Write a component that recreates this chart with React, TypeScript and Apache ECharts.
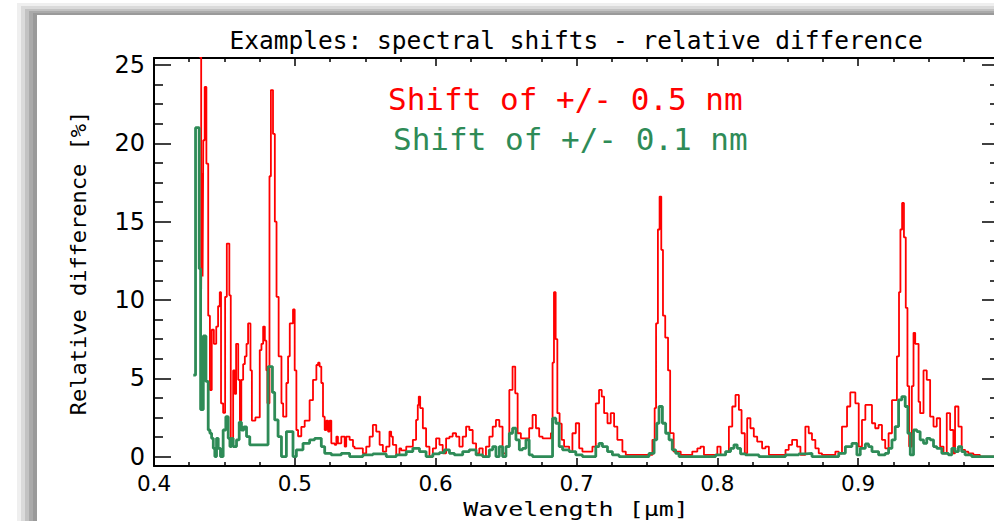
import React, { useEffect, useRef } from "react";
import * as echarts from "echarts";

const titleText = "Examples: spectral shifts - relative difference";
const xAxisName = "Wavelength [μm]";
const yAxisName = "Relative difference [%]";
const redLabel = "Shift of +/- 0.5 nm";
const greenLabel = "Shift of +/- 0.1 nm";

// [wavelength µm, relative difference %] — step segments (value holds until next wavelength)
const shift05: number[][] = [
  [0.4323, 25.5], [0.4335, 10.7], [0.434, 18.1], [0.4345, 11.5], [0.435, 20.2], [0.436, 23.6], [0.4372, 18.7],
  [0.4385, 9.0], [0.4397, 4.25], [0.441, 8.1], [0.4425, 7.2], [0.4442, 8.3], [0.4455, 9.6], [0.4467, 10.5],
  [0.4476, 3.4], [0.4491, 2.8], [0.4505, 10.2], [0.4517, 13.6], [0.4535, 10.3], [0.4545, 0.85], [0.4562, 5.5],
  [0.4574, 4.0], [0.4583, 7.2], [0.4598, 4.9], [0.461, 2.3], [0.462, 4.9], [0.4633, 5.9], [0.4645, 6.4],
  [0.4657, 7.2], [0.4668, 8.5], [0.4685, 5.5], [0.4695, 2.3], [0.472, 2.5], [0.4751, 6.8], [0.4763, 7.2],
  [0.4775, 8.3], [0.4787, 7.4], [0.4798, 5.5], [0.4805, 3.4], [0.482, 17.9], [0.483, 23.4], [0.4845, 20.6],
  [0.4858, 15.0], [0.487, 10.2], [0.4885, 6.4], [0.4905, 3.4], [0.4917, 2.55], [0.494, 4.7], [0.4952, 6.4],
  [0.4964, 8.5], [0.4987, 9.4], [0.4999, 5.5], [0.5011, 1.7], [0.5023, 1.3], [0.5046, 1.9], [0.507, 2.3],
  [0.5093, 2.3], [0.5105, 3.6], [0.5129, 4.9], [0.5153, 5.85], [0.5165, 6.0], [0.5176, 5.75], [0.5188, 4.7],
  [0.52, 2.55], [0.5212, 1.7], [0.5224, 2.3], [0.5236, 1.6], [0.5247, 2.3], [0.5259, 0.85], [0.5283, 0.75],
  [0.5295, 1.28], [0.5306, 0.85], [0.533, 1.28], [0.5354, 0.64], [0.5365, 1.28], [0.5389, 1.07], [0.5413, 0.64],
  [0.5424, 0.53], [0.5483, 0.21], [0.5507, 0.64], [0.5531, 1.28], [0.5554, 2.02], [0.5578, 1.6], [0.5602, 0.75],
  [0.5625, 0.32], [0.5649, 0.64], [0.5672, 1.6], [0.5684, 1.28], [0.5696, 0.75], [0.572, 0.11], [0.5743, 0.53],
  [0.5755, 0.4], [0.5791, 0.64], [0.5838, 1.07], [0.5861, 2.34], [0.5873, 3.3], [0.588, 3.83], [0.589, 3.1],
  [0.5909, 1.81], [0.5932, 0.64], [0.5956, 0.0], [0.598, 0.53], [0.6003, 1.17], [0.6027, 0.75], [0.605, 0.21],
  [0.6074, 1.17], [0.6098, 1.28], [0.6121, 1.49], [0.6145, 1.28], [0.6168, 0.64], [0.6192, 1.28], [0.6216, 1.92],
  [0.6239, 1.7], [0.6263, 0.85], [0.6287, 0.21], [0.631, 0.53], [0.6334, 0.0], [0.6357, 0.64], [0.6381, 1.28],
  [0.6405, 1.92], [0.6428, 2.34], [0.6452, 1.92], [0.6475, 0.21], [0.6499, 0.64], [0.6523, 4.26], [0.6546, 5.75],
  [0.6565, 4.04], [0.6582, 1.49], [0.6605, 1.17], [0.6664, 1.81], [0.6688, 2.66], [0.6712, 1.81], [0.6735, 1.28],
  [0.6759, 1.17], [0.6818, 1.49], [0.683, 6.0], [0.684, 10.5], [0.6852, 7.5], [0.6864, 2.77], [0.688, 2.1],
  [0.6895, 1.07], [0.6912, 0.64], [0.6948, 0.32], [0.6971, 1.49], [0.6995, 2.13], [0.7019, 0.53], [0.7042, 0.32],
  [0.7113, 0.64], [0.7137, 3.4], [0.716, 4.26], [0.7179, 3.83], [0.7196, 2.77], [0.722, 2.13], [0.7243, 2.77],
  [0.7267, 1.92], [0.729, 1.07], [0.7326, 0.32], [0.735, 0.11], [0.7539, 1.07], [0.7555, 3.1], [0.7565, 8.5],
  [0.7578, 14.5], [0.759, 16.6], [0.7602, 13.2], [0.7614, 9.0], [0.763, 7.6], [0.765, 5.5], [0.7665, 1.5],
  [0.769, 0.32], [0.774, 0.11], [0.7822, 0.32], [0.7858, 0.53], [0.7881, 0.64], [0.7905, 0.11], [0.8, 0.64],
  [0.8023, 0.11], [0.8059, 0.32], [0.8082, 1.92], [0.8106, 3.2], [0.8129, 3.94], [0.8153, 2.98], [0.8172, 1.49],
  [0.8195, 0.21], [0.8212, 2.45], [0.8235, 1.81], [0.8259, 1.28], [0.8283, 0.96], [0.8318, 0.53], [0.8342, 0.64],
  [0.8366, 0.11], [0.8484, 0.43], [0.8507, 0.75], [0.8531, 1.07], [0.8566, 0.64], [0.859, 0.11], [0.8625, 1.92],
  [0.8649, 1.49], [0.8672, 1.07], [0.8696, 0.53], [0.872, 0.21], [0.8743, 0.11], [0.8838, 0.32], [0.8862, 0.21],
  [0.8885, 1.92], [0.8921, 3.2], [0.8944, 4.1], [0.898, 3.4], [0.9004, 0.64], [0.9027, 2.34], [0.9051, 3.3],
  [0.9098, 2.13], [0.9121, 1.81], [0.9145, 2.02], [0.9169, 1.07], [0.9192, 0.53], [0.9216, 1.49], [0.924, 3.6],
  [0.9275, 6.4], [0.929, 10.5], [0.93, 14.5], [0.9312, 16.2], [0.9325, 14.0], [0.9338, 9.5], [0.935, 4.5],
  [0.9362, 0.64], [0.9381, 4.5], [0.9393, 7.9], [0.9405, 7.2], [0.9429, 3.5], [0.944, 2.77], [0.9464, 5.5],
  [0.9487, 4.9], [0.9511, 2.55], [0.9535, 1.92], [0.9558, 2.45], [0.9582, 0.64], [0.9606, 0.21], [0.9629, 2.77],
  [0.9653, 1.7], [0.9676, 0.21], [0.9688, 3.2], [0.9712, 1.92], [0.9735, 0.43], [0.9759, 0.32], [0.9782, 0.21],
  [0.9818, 0.11], [0.9865, 0.0], [1.0, 0.0],
];

const shift01: number[][] = [
  [0.4279, 5.2], [0.4295, 21.0], [0.4321, 12.0], [0.4331, 3.0], [0.435, 7.7], [0.4369, 4.8], [0.4385, 1.7],
  [0.4397, 1.49], [0.4409, 1.17], [0.4421, 0.53], [0.4432, 0.0], [0.4444, 1.17], [0.4456, 0.53], [0.4472, 0.0],
  [0.4491, 1.7], [0.451, 2.55], [0.4527, 1.17], [0.4539, 0.64], [0.455, 1.17], [0.4562, 0.64], [0.4586, 1.07],
  [0.4605, 2.2], [0.4621, 1.7], [0.4638, 1.9], [0.4657, 1.28], [0.468, 0.75], [0.481, 5.75], [0.4841, 4.1],
  [0.4857, 2.34], [0.4881, 1.28], [0.4905, 0.0], [0.494, 1.6], [0.4987, 0.0], [0.5011, 0.43], [0.5058, 0.85],
  [0.5105, 1.07], [0.5141, 1.17], [0.5188, 0.64], [0.5212, 0.21], [0.5259, 0.11], [0.533, 0.21], [0.5389, 0.0],
  [0.5483, 0.11], [0.5554, 0.17], [0.5649, 0.0], [0.572, 0.11], [0.5791, 0.32], [0.5838, 0.53], [0.5885, 0.32],
  [0.5932, 0.0], [0.598, 0.17], [0.6027, 0.26], [0.6062, 0.43], [0.6098, 0.21], [0.6133, 0.11], [0.6192, 0.32],
  [0.6239, 0.43], [0.6287, 0.11], [0.6334, 0.0], [0.6381, 0.43], [0.6405, 0.64], [0.6428, 0.0], [0.6452, 0.64],
  [0.6475, 0.0], [0.6499, 0.64], [0.6523, 1.49], [0.6546, 1.81], [0.657, 1.07], [0.6594, 0.43], [0.6617, 0.53],
  [0.6641, 1.07], [0.6664, 0.11], [0.6688, 0.0], [0.683, 2.45], [0.6853, 2.13], [0.6877, 0.64], [0.6901, 0.43],
  [0.6948, 0.32], [0.6995, 0.11], [0.7042, 0.0], [0.7137, 0.64], [0.716, 0.85], [0.7184, 0.64], [0.722, 0.32],
  [0.7255, 0.11], [0.7302, 0.0], [0.7515, 0.21], [0.7551, 1.07], [0.757, 2.13], [0.7586, 3.2], [0.761, 2.13],
  [0.7633, 1.49], [0.7657, 1.07], [0.768, 0.43], [0.7704, 0.21], [0.7728, 0.0], [0.7988, 0.11], [0.8059, 0.32],
  [0.8094, 0.53], [0.8118, 0.75], [0.8141, 0.53], [0.8165, 0.17], [0.82, 0.11], [0.8295, 0.0], [0.8484, 0.11],
  [0.8578, 0.17], [0.8625, 0.21], [0.8672, 0.0], [0.8862, 0.21], [0.8909, 0.64], [0.8956, 0.85], [0.8991, 0.11],
  [0.9015, 0.53], [0.9051, 0.81], [0.9074, 0.64], [0.9098, 0.32], [0.9145, 0.11], [0.9192, 0.21], [0.9216, 0.53],
  [0.924, 1.07], [0.9263, 1.92], [0.9287, 3.62], [0.931, 3.83], [0.9334, 3.2], [0.9353, 1.49], [0.937, 0.11],
  [0.9393, 1.7], [0.9417, 1.6], [0.944, 1.07], [0.9464, 0.85], [0.9487, 1.17], [0.9511, 1.07], [0.9535, 0.64],
  [0.9558, 0.53], [0.9594, 0.21], [0.9641, 0.11], [0.9665, 0.53], [0.9688, 0.32], [0.9712, 0.64], [0.9735, 0.32],
  [0.9759, 0.11], [0.9806, 0.0], [1.0, 0.0],
];

const MONO = "'DejaVu Sans Mono', monospace";
const SANS = "'DejaVu Sans', sans-serif";

function frameBands() {
  // shadowed window frame on the left and top
  const layers = [
    { x: 17, y: 3, c: "#efefef" },
    { x: 21, y: 6, c: "#dadada" },
    { x: 25, y: 9, c: "#c2c2c2" },
    { x: 29, y: 11, c: "#aaaaaa" },
    { x: 33, y: 13, c: "#9a9a9a" },
  ];
  const inner = { x: 37, y: 15 };
  const els: any[] = [];
  layers.forEach((l, i) => {
    const next = layers[i + 1] || inner;
    els.push({ type: "rect", shape: { x: l.x, y: l.y, width: next.x - l.x, height: 521 - l.y }, style: { fill: l.c }, silent: true });
    els.push({ type: "rect", shape: { x: l.x, y: l.y, width: 1000 - l.x, height: next.y - l.y }, style: { fill: l.c }, silent: true });
  });
  return els;
}

export default function App() {
  const ref = useRef<HTMLDivElement>(null);
  useEffect(() => {
    const chart = echarts.init(ref.current!, null, { renderer: "svg" });
    const axisLine = { show: true, onZero: false, lineStyle: { color: "#000", width: 2 } };
    const xBase = {
      type: "value",
      min: 0.4,
      max: 1.0,
      interval: 0.1,
      axisLine,
      splitLine: { show: false },
      axisTick: { show: true, inside: true, length: 8, lineStyle: { color: "#000", width: 1.5 } },
      minorTick: { show: true, splitNumber: 4, length: 4, lineStyle: { color: "#000", width: 1.5 } },
      minorSplitLine: { show: false },
    };
    const yBase = {
      type: "value",
      min: -0.6,
      max: 25.45,
      splitNumber: 5,
      axisLine,
      splitLine: { show: false },
      axisTick: { show: true, inside: true, length: 17, lineStyle: { color: "#000", width: 1.5 } },
      minorTick: { show: true, splitNumber: 4, length: 9, lineStyle: { color: "#000", width: 1.5 } },
      minorSplitLine: { show: false },
    };
    const option: any = {
      animation: false,
      backgroundColor: "#ffffff",
      grid: { left: 154, right: 1, top: 58, bottom: 55, containLabel: false },
      xAxis: [
        {
          ...xBase,
          position: "bottom",
          axisLabel: {
            show: true,
            margin: 6,
            color: "#000",
            fontFamily: SANS,
            fontSize: 21.5,
            showMaxLabel: false,
            formatter: (v: number) => v.toFixed(1),
          },
        },
        { ...xBase, position: "top", axisLabel: { show: false } },
      ],
      yAxis: [
        {
          ...yBase,
          position: "left",
          axisLabel: {
            show: true,
            margin: 9,
            color: "#000",
            fontFamily: SANS,
            fontSize: 24,
            formatter: (v: number) => (Math.abs(v - Math.round(v)) < 1e-6 && v >= 0 ? String(Math.round(v)) : ""),
          },
        },
        { ...yBase, position: "right", axisLabel: { show: false } },
      ],
      series: [
        {
          name: redLabel,
          type: "line",
          step: "end",
          data: shift05,
          xAxisIndex: 0,
          yAxisIndex: 0,
          showSymbol: false,
          clip: true,
          lineStyle: { color: "#ff0000", width: 1.8 },
          itemStyle: { color: "#ff0000" },
          z: 3,
        },
        {
          name: greenLabel,
          type: "line",
          step: "end",
          data: shift01,
          xAxisIndex: 0,
          yAxisIndex: 0,
          showSymbol: false,
          clip: true,
          lineStyle: { color: "#2e8b57", width: 2.8 },
          itemStyle: { color: "#2e8b57" },
          z: 4,
        },
      ],
      graphic: [
        ...frameBands(),
        {
          type: "text",
          x: 576,
          y: 40,
          style: { text: titleText, fill: "#000", font: `24.5px ${MONO}`, align: "center", verticalAlign: "middle" },
        },
        {
          type: "text",
          x: 388,
          y: 99,
          style: { text: redLabel, fill: "#ff0000", font: `31px ${MONO}`, align: "left", verticalAlign: "middle" },
        },
        {
          type: "text",
          x: 393,
          y: 139,
          style: { text: greenLabel, fill: "#2e8b57", font: `31px ${MONO}`, align: "left", verticalAlign: "middle" },
        },
        {
          type: "text",
          x: 576,
          y: 509,
          scaleX: 1.25,
          style: { text: xAxisName, fill: "#000", font: `20px ${MONO}`, align: "center", verticalAlign: "middle" },
        },
        {
          type: "text",
          x: 78,
          y: 263,
          rotation: Math.PI / 2,
          style: { text: yAxisName, fill: "#000", font: `22px ${MONO}`, align: "center", verticalAlign: "middle" },
        },
      ],
    };
    chart.setOption(option);
    return () => chart.dispose();
  }, []);
  return (
    <div style={{ position: "fixed", left: 0, top: 0, width: 994, height: 521, overflow: "hidden", background: "#fff" }}>
      <div ref={ref} style={{ width: 1000, height: 521 }} />
    </div>
  );
}
